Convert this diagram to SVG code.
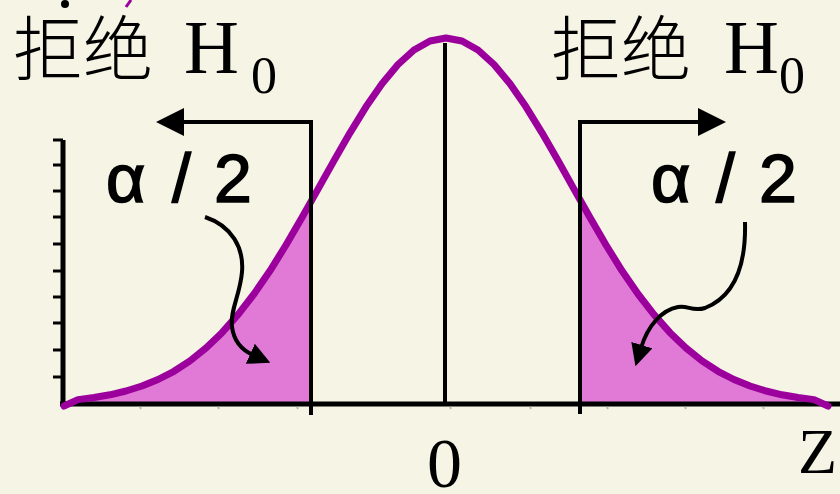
<svg xmlns="http://www.w3.org/2000/svg" width="840" height="494" viewBox="0 0 840 494">
<style>
.bg{fill:#F5F4E5}
.tail{fill:#E07AD6;stroke:none}
.curve{fill:none;stroke:#9C009C;stroke-width:7;stroke-linejoin:round;stroke-linecap:round}
.ln{fill:none;stroke:#000;stroke-width:4}
.axis{fill:none;stroke:#000;stroke-width:5}
.tick{stroke:#000;stroke-width:3}
.mtick{stroke:#B8B8AC;stroke-width:2}
.cj{font-family:"Noto Sans CJK SC","Noto Sans",sans-serif;font-size:70px;font-weight:300;fill:#000}
.tm{font-family:"Liberation Serif","Times New Roman",serif;fill:#000}
.al{font-family:"Liberation Sans",Arial,sans-serif;font-size:68px;fill:#000;stroke:#000;stroke-width:1.6}
</style>
<defs>
<marker id="bigHead" markerUnits="userSpaceOnUse" viewBox="0 0 28 28" markerWidth="28" markerHeight="28" refX="0" refY="14" orient="auto">
<path d="M0,0 L28,14 L0,28 z" fill="#000"/>
</marker>
<marker id="smallHead" markerUnits="userSpaceOnUse" viewBox="0 0 22 22" markerWidth="22" markerHeight="22" refX="3" refY="11" orient="auto">
<path d="M0,0 L22,11 L0,22 z" fill="#000"/>
</marker>
</defs>
<rect class="bg" x="0" y="0" width="840" height="494"/>
<circle cx="65" cy="4" r="4" fill="#000"/>
<path d="M126,7 L131,0" stroke="#9C009C" stroke-width="3"/>

<g id="tails">
<polygon class="tail" points="62,404 62,402 78,399.6 94,397.5 110,394.8 126,391 142,386 158,379.5 174,371.3 190,360.9 206,348 222,332.7 238,314.7 254,294 270,270.8 286,245 302,217.5 311,201.8 311,404"/>
<polygon class="tail" points="580,404 580,200 590,217.5 606,245 622,270.8 638,294 654,314.7 670,332.7 686,348 702,360.9 718,371.3 734,379.5 750,386 766,391 782,394.8 798,397.5 814,399.6 830,402 830,404"/>
</g>

<g id="axes">
<line class="axis" x1="60" y1="404" x2="840" y2="404"/>
<line class="axis" x1="63" y1="140" x2="63" y2="406"/>
<line class="tick" x1="53" y1="140" x2="63" y2="140"/>
<line class="tick" x1="53" y1="165" x2="63" y2="165"/>
<line class="tick" x1="53" y1="191" x2="63" y2="191"/>
<line class="tick" x1="53" y1="217" x2="63" y2="217"/>
<line class="tick" x1="53" y1="244" x2="63" y2="244"/>
<line class="tick" x1="53" y1="271" x2="63" y2="271"/>
<line class="tick" x1="53" y1="297" x2="63" y2="297"/>
<line class="tick" x1="53" y1="323" x2="63" y2="323"/>
<line class="tick" x1="53" y1="350" x2="63" y2="350"/>
<line class="tick" x1="53" y1="377" x2="63" y2="377"/>
<line class="mtick" x1="140" y1="407" x2="141" y2="409"/>
<line class="mtick" x1="218" y1="407" x2="219" y2="409"/>
<line class="mtick" x1="297" y1="407" x2="298" y2="409"/>
<line class="mtick" x1="450" y1="407" x2="451" y2="409"/>
<line class="mtick" x1="530" y1="407" x2="531" y2="409"/>
<line class="mtick" x1="607" y1="407" x2="608" y2="409"/>
<line class="mtick" x1="685" y1="407" x2="686" y2="409"/>
<line class="mtick" x1="763" y1="407" x2="764" y2="409"/>
</g>

<g id="bell-curve">
<polyline class="curve" points="64,406 78,399.6 94,397.5 110,394.8 126,391 142,386 158,379.5 174,371.3 190,360.9 206,348 222,332.7 238,314.7 254,294 270,270.8 286,245 302,217.5 318,189.1 334,160.6 350,132.8 366,106.8 382,83.7 398,64.5 414,50 430,41 446,38 462,41 478,50 494,64.5 510,83.7 526,106.8 542,132.8 558,160.6 574,189.1 590,217.5 606,245 622,270.8 638,294 654,314.7 670,332.7 686,348 702,360.9 718,371.3 734,379.5 750,386 766,391 782,394.8 798,397.5 814,399.6 828,406"/>
</g>

<g id="connectors">
<line class="ln" x1="445" y1="43" x2="445" y2="404"/>
<path class="ln" d="M311,415 L311,122 L184,122" marker-end="url(#bigHead)"/>
<path class="ln" d="M580,414 L580,122 L698,122" marker-end="url(#bigHead)"/>
<path class="ln" d="M205,217 C232,226 244,248 242,272 C240,295 230,310 232,327 C234,342 242,350 253,355" marker-end="url(#smallHead)"/>
<path class="ln" d="M745,222 C746,260 738,295 705,308 C692,312 688,305 678,307 C662,310 648,325 641,348" marker-end="url(#smallHead)"/>
</g>

<g id="label-reject-left">
<text class="cj" x="13" y="75">拒绝</text>
<text class="tm" x="184" y="73" font-size="76">H</text>
<text class="tm" x="251" y="93" font-size="52">0</text>
</g>
<g id="label-reject-right">
<text class="cj" x="551" y="75">拒绝</text>
<text class="tm" x="724" y="73" font-size="76">H</text>
<text class="tm" x="779" y="93" font-size="52">0</text>
</g>
<g id="label-alpha-left">
<text class="al" x="106" y="202">α</text>
<text class="al" x="172" y="202">/</text>
<text class="al" x="214" y="202">2</text>
</g>
<g id="label-alpha-right">
<text class="al" x="651" y="202">α</text>
<text class="al" x="716" y="202">/</text>
<text class="al" x="759" y="202">2</text>
</g>
<g id="label-zero">
<text class="tm" x="427" y="487" font-size="70">0</text>
</g>
<g id="label-z">
<text class="tm" x="798" y="473" font-size="64">Z</text>
</g>
</svg>
